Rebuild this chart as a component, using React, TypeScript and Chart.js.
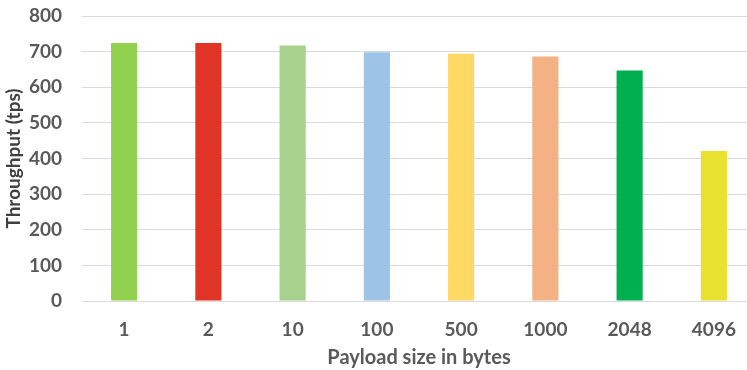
import React, { useEffect, useRef } from "react";
import { Chart, registerables } from "chart.js";

Chart.register(...registerables);

const categories = ["1", "2", "10", "100", "500", "1000", "2048", "4096"];
const throughput = [724, 724, 717, 698, 694, 686, 647, 421];
const barColors = ["#92D050", "#E03426", "#A9D18E", "#9DC3E6", "#FFD966", "#F4B183", "#00B050", "#E9E130"];
const yTicks = [0, 100, 200, 300, 400, 500, 600, 700, 800];

export default function App() {
  const ref = useRef<HTMLCanvasElement>(null);
  useEffect(() => {
    document.body.style.margin = "0";
    document.body.style.overflow = "hidden";
    const ctx = ref.current!;
    const family = "Lato, 'Open Sans', sans-serif";
    const tickFont = { family, weight: "bold" as const, size: 19 };
    const titleFont = { family, weight: "bold" as const, size: 20 };
    const chart = new Chart(ctx, {
      type: "bar",
      data: {
        labels: categories,
        datasets: [
          {
            data: throughput,
            backgroundColor: barColors,
            barPercentage: 0.31,
            categoryPercentage: 1,
          },
        ],
      },
      options: {
        animation: false,
        responsive: false,
        layout: { padding: { top: 16, left: 2, right: 0, bottom: 0 } },
        plugins: { legend: { display: false }, tooltip: { enabled: false } },
        scales: {
          x: {
            grid: { display: false },
            border: { display: false },
            ticks: { color: "#595959", font: tickFont, padding: 9, maxRotation: 0, autoSkip: false },
            title: { display: true, text: "Payload size in bytes", color: "#595959", font: titleFont, padding: { top: 0, bottom: 0 } },
            afterFit: (axis: any) => {
              axis.height = 69;
              axis.paddingLeft = 0;
              axis.paddingRight = 0;
            },
          },
          y: {
            min: 0,
            max: 800,
            afterBuildTicks: (axis: any) => {
              axis.ticks = yTicks.map((v) => ({ value: v }));
            },
            grid: { color: "#D9D9D9", lineWidth: 1, drawTicks: false },
            border: { display: false },
            ticks: { color: "#595959", font: tickFont, padding: 20 },
            title: { display: true, text: "Throughput (tps)", color: "#404040", font: { ...titleFont, size: 19 }, padding: { top: 0, bottom: 4 } },
            afterFit: (axis: any) => {
              axis.width = 80;
              axis.paddingTop = 0;
              axis.paddingBottom = 0;
            },
          },
        },
      },
    });
    return () => chart.destroy();
  }, []);
  return <canvas ref={ref} width={756} height={370} style={{ display: "block" }} />;
}
